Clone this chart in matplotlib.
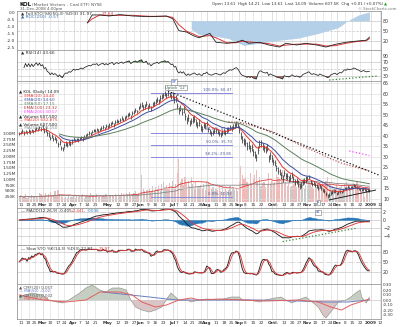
import matplotlib
matplotlib.use("Agg")
import matplotlib.pyplot as plt
import numpy as np
import pandas as pd

W, H = 400, 327
LEFT, RIGHT = 17, 381

# trading calendar
holidays = ["2008-02-18", "2008-03-21", "2008-05-26", "2008-07-04",
            "2008-09-01", "2008-11-27", "2008-12-25", "2009-01-01"]
cal = pd.bdate_range("2008-02-08", "2009-01-16")
cal = cal[~cal.isin(pd.to_datetime(holidays))]


def pos(d):
    return int(cal.searchsorted(pd.Timestamp(d)))


# daily closes, week by week (Feb 8 2008 .. Dec 31 2008)
closes = [
    41.0,
    41.5, 42.2, 41.3, 42.0, 41.6,
    42.3, 41.8, 42.6, 42.1,
    42.8, 43.5, 42.9, 44.0, 43.2,
    43.8, 42.5, 42.9, 41.2, 40.6,
    39.0, 39.8, 38.4, 38.9, 37.8,
    35.9, 36.8, 34.2, 33.6,
    35.4, 36.2, 35.8, 36.9, 36.3,
    37.2, 38.4, 37.6, 38.3, 37.9,
    38.6, 39.2, 38.5, 39.6, 40.1,
    40.7, 41.3, 41.0, 41.9, 42.6,
    42.4, 43.1, 42.2, 43.0, 43.7,
    44.2, 43.4, 44.6, 44.0, 45.1,
    45.6, 46.3, 45.2, 46.6, 47.2,
    46.8, 47.6, 48.3, 47.7, 48.6,
    49.2, 49.8, 50.3, 49.1, 50.7,
    51.3, 52.2, 51.6, 53.1,
    54.2, 54.8, 53.5, 54.1, 55.2,
    53.6, 54.3, 53.0, 54.7, 55.6,
    56.2, 57.1, 56.4, 58.0, 58.7,
    59.2, 60.1, 59.4, 60.3, 59.5,
    58.6, 59.2, 57.4, 57.9,
    54.2, 52.1, 53.2, 51.4, 52.6,
    49.3, 47.2, 48.6, 46.1, 47.0,
    47.6, 48.2, 46.4, 45.1, 46.2,
    44.0, 43.2, 45.1, 44.6, 46.0,
    43.1, 42.0, 41.2, 41.7, 42.3,
    42.6, 41.9, 41.0, 40.6, 41.6,
    42.1, 41.4, 42.7, 43.2, 44.1,
    43.6, 44.2, 45.1, 45.6, 44.8,
    42.8, 40.1, 38.2, 37.4,
    36.6, 35.1, 35.6, 34.0, 34.6,
    32.1, 30.9, 29.8, 33.2, 36.1,
    36.4, 34.8, 34.1, 33.4, 34.2,
    29.1, 30.6, 29.2, 27.4, 26.9,
    24.6, 23.4, 22.6, 21.1, 19.6,
    22.4, 20.9, 20.6, 19.4, 20.1,
    21.2, 19.4, 18.1, 18.6, 17.2,
    16.1, 16.6, 18.0, 18.6, 19.1,
    19.6, 20.2, 18.1, 17.0, 17.6,
    16.6, 16.0, 15.1, 16.1, 15.2,
    14.1, 13.6, 12.4, 11.4, 11.6,
    12.8, 13.1, 13.6, 13.8,
    12.4, 13.0, 13.6, 13.2, 14.1,
    15.1, 14.7, 15.6, 15.0, 15.3,
    15.5, 16.1, 15.8, 15.2, 15.0,
    14.4, 14.2, 14.6, 14.3,
    13.9, 14.08, 14.09,
]

# daily volume (thousands)
volume_k = [
    250,
    300, 180, 220, 350, 200,
    280, 150, 320, 240,
    260, 300, 180, 400, 350,
    300, 250, 420, 200, 380,
    450, 300, 260, 500, 280,
    520, 380, 300, 250,
    200, 240, 180, 300, 220,
    250, 340, 200, 280, 230,
    300, 260, 350, 200, 280,
    310, 220, 400, 330, 260,
    280, 350, 240, 300, 220,
    260, 300, 380, 250, 320,
    290, 340, 270, 360, 300,
    380, 300, 420, 350, 280,
    400, 360, 450, 300, 380,
    420, 500, 350, 400,
    450, 1200, 600, 480, 550,
    520, 600, 450, 700, 500,
    650, 580, 720, 500, 800,
    900, 650, 750, 600, 850,
    700, 950, 600, 800,
    1300, 1900, 900, 1000, 750,
    1100, 850, 950, 700, 1100,
    800, 600, 900, 650, 700,
    750, 600, 800, 550, 900,
    850, 700, 600, 650, 500,
    600, 550, 700, 500, 650,
    450, 600, 500, 550, 700,
    500, 650, 550, 600, 480,
    900, 1600, 1200, 1000,
    1100, 900, 750, 1300, 800,
    1000, 1200, 1400, 900, 1100,
    700, 850, 900, 650, 750,
    1300, 800, 950, 850, 900,
    1200, 1100, 1000, 950, 1400,
    800, 900, 700, 850, 650,
    700, 800, 900, 650, 750,
    850, 700, 1000, 600, 750,
    700, 900, 800, 650, 600,
    750, 650, 800, 900, 700,
    850, 700, 950, 1100, 900,
    800, 700, 600, 350,
    750, 600, 650, 700, 550,
    800, 900, 650, 700, 600,
    750, 850, 600, 950, 700,
    550, 500, 400, 250,
    450, 500, 607.5,
]

# typical daily bar range by month ($)
month_range = {2: 1.6, 3: 2.2, 4: 1.6, 5: 1.8, 6: 2.4, 7: 3.2,
               8: 2.4, 9: 3.4, 10: 3.0, 11: 2.0, 12: 1.4}

# top panel: Full STO %K and blue area
fsto_dates = ["2008-04-14", "2008-04-17", "2008-04-24", "2008-05-02", "2008-05-13",
              "2008-05-23", "2008-06-10", "2008-06-25", "2008-07-01", "2008-07-08",
              "2008-07-15", "2008-07-21", "2008-07-25", "2008-08-05", "2008-08-11",
              "2008-08-20", "2008-08-28", "2008-09-04", "2008-09-10", "2008-09-19",
              "2008-09-29", "2008-10-08", "2008-10-14", "2008-10-23", "2008-10-31",
              "2008-11-11", "2008-11-19", "2008-11-28", "2008-12-09", "2008-12-17",
              "2008-12-29", "2008-12-31"]
fsto_k = [74, 97, 97, 94, 98, 94, 92, 94, 86, 51, 47, 37, 30, 43, 17, 14, 17, 23,
          14, 17, 9, 3, 14, 9, 14, 9, 3, 11, 17, 20, 23, 31.97]
roc_dates = ["2008-07-18", "2008-07-25", "2008-08-08", "2008-08-21", "2008-09-05",
             "2008-09-19", "2008-10-08", "2008-10-24", "2008-11-12", "2008-12-02",
             "2008-12-10", "2008-12-19", "2008-12-31"]
roc_vals = [55, 40, 35, 28, 8, 14, 23, 29, 43, 60, 80, 97, 106]

# CMF panel
cmf_dates = ["2008-02-08", "2008-02-21", "2008-03-03", "2008-03-07", "2008-03-14",
             "2008-03-20", "2008-03-27", "2008-04-07", "2008-04-11", "2008-04-17",
             "2008-04-24", "2008-04-30", "2008-05-06", "2008-05-13", "2008-05-19",
             "2008-05-22", "2008-05-28", "2008-06-03", "2008-06-10", "2008-06-16",
             "2008-06-20", "2008-06-26", "2008-06-30", "2008-07-08", "2008-07-15",
             "2008-07-18", "2008-07-25", "2008-08-01", "2008-08-13", "2008-08-25",
             "2008-09-02", "2008-09-04", "2008-09-10", "2008-09-19", "2008-09-25",
             "2008-10-03", "2008-10-09", "2008-10-14", "2008-10-20", "2008-10-24",
             "2008-10-31", "2008-11-06", "2008-11-12", "2008-11-17", "2008-11-19",
             "2008-11-24", "2008-12-02", "2008-12-09", "2008-12-12", "2008-12-18",
             "2008-12-22", "2008-12-23", "2008-12-29", "2008-12-30", "2008-12-31"]
cmf20 = [0.06, 0.14, 0.10, 0.0, -0.04, -0.06, 0.0, 0.14, 0.24, 0.30, 0.20, 0.16,
         0.24, 0.24, 0.20, 0.0, -0.14, -0.20, -0.24, -0.20, -0.14, 0.06, 0.14, 0.0,
         0.0, -0.04, 0.0, 0.02, 0.0, 0.06, 0.06, 0.0, 0.0, -0.04, 0.0, 0.04, 0.06,
         0.0, -0.06, 0.0, 0.06, -0.04, -0.14, -0.30, -0.36, -0.24, -0.04, 0.0, 0.06,
         0.16, 0.20, 0.06, -0.06, 0.0, 0.057]
cmf_ma_dates = ["2008-02-08", "2008-03-03", "2008-03-25", "2008-04-11", "2008-04-24",
                "2008-05-13", "2008-05-23", "2008-06-03", "2008-06-16", "2008-06-25",
                "2008-07-08", "2008-07-18", "2008-07-25", "2008-08-13", "2008-09-04",
                "2008-09-25", "2008-10-24", "2008-11-12", "2008-11-24", "2008-12-04",
                "2008-12-12", "2008-12-22", "2008-12-31"]
cmf_ma = [0.10, 0.0, -0.04, 0.0, 0.16, 0.16, 0.10, -0.04, -0.14, -0.10, 0.0, 0.04,
          0.0, 0.02, 0.0, -0.02, 0.0, -0.04, -0.14, -0.20, -0.10, -0.04, 0.02]
cmf50_dates = ["2008-04-28", "2008-05-22", "2008-06-10", "2008-06-25", "2008-07-08",
               "2008-08-13", "2008-09-19", "2008-10-24", "2008-11-19", "2008-12-10",
               "2008-12-31"]
cmf50 = [0.16, 0.10, 0.06, 0.02, 0.0, 0.0, 0.0, -0.02, -0.04, -0.04, 0.002]

# fibonacci retracement
fib_hi, fib_lo = 60.47, 10.92
fib_levels = [1.0, 0.618, 0.5, 0.382, 0.0]
fib_span = ["2008-06-11", "2008-08-25"]

# date axis labels
date_ticks = [("2008-02-11", "11"), ("2008-02-19", "19"), ("2008-02-25", "25"),
              ("2008-03-03", "Mar"), ("2008-03-10", "10"), ("2008-03-17", "17"),
              ("2008-03-24", "24"), ("2008-04-01", "Apr"), ("2008-04-07", "7"),
              ("2008-04-14", "14"), ("2008-04-21", "21"), ("2008-05-01", "May"),
              ("2008-05-12", "12"), ("2008-05-19", "19"), ("2008-05-27", "27"),
              ("2008-06-02", "Jun"), ("2008-06-09", "9"), ("2008-06-16", "16"),
              ("2008-06-23", "23"), ("2008-07-01", "Jul"), ("2008-07-07", "7"),
              ("2008-07-14", "14"), ("2008-07-21", "21"), ("2008-07-28", "28"),
              ("2008-08-01", "Aug"), ("2008-08-11", "11"), ("2008-08-18", "18"),
              ("2008-08-25", "25"), ("2008-09-02", "Sep"), ("2008-09-08", "8"),
              ("2008-09-15", "15"), ("2008-09-22", "22"), ("2008-10-01", "Oct"),
              ("2008-10-06", "6"), ("2008-10-13", "13"), ("2008-10-20", "20"),
              ("2008-10-27", "27"), ("2008-11-03", "Nov"), ("2008-11-10", "10"),
              ("2008-11-17", "17"), ("2008-11-24", "24"), ("2008-12-01", "Dec"),
              ("2008-12-08", "8"), ("2008-12-15", "15"), ("2008-12-22", "22"),
              ("2009-01-02", "2009"), ("2009-01-12", "12")]

# ---------------- derived series ----------------
n = min(len(closes), len(volume_k))
dates = cal[:n]
x = np.arange(n)
close = pd.Series(closes[:n], dtype=float)
rng = pd.Series([month_range[d.month] for d in dates])
high = close + rng / 2
low = close - rng / 2
vol = pd.Series(volume_k[:n], dtype=float) * 1000

ema = {p: close.ewm(span=p, adjust=False).mean() for p in (10, 20, 50, 100, 200)}
macd = close.ewm(span=12, adjust=False).mean() - close.ewm(span=26, adjust=False).mean()
signal = macd.ewm(span=9, adjust=False).mean()
hist = macd - signal

d = close.diff()
gain = d.clip(lower=0).ewm(alpha=1 / 14).mean()
loss = (-d.clip(upper=0)).ewm(alpha=1 / 14).mean()
rsi = 100 - 100 / (1 + gain / loss)

hh = high.rolling(14, min_periods=1).max()
ll = low.rolling(14, min_periods=1).min()
slowk = (100 * (close - ll) / (hh - ll)).rolling(3, min_periods=1).mean()
slowd = slowk.rolling(3, min_periods=1).mean()

vma20 = vol.rolling(20, min_periods=1).mean()
vma50 = vol.rolling(50, min_periods=1).mean()

fx = [pos(s) for s in fsto_dates]
fd = pd.Series(fsto_k).rolling(2, min_periods=1).mean()
rx = [pos(s) for s in roc_dates]

# ---------------- figure ----------------
fig = plt.figure(figsize=(W / 100, H / 100), dpi=100)
fig.patch.set_facecolor("white")
TXT = "#333333"
GRID = "#dddddd"
FS = 3.4


def panel(top, bottom):
    ax = fig.add_axes([LEFT / W, 1 - bottom / H, (RIGHT - LEFT) / W, (bottom - top) / H])
    ax.set_xlim(-1.5, 233.5)
    ax.set_xticks([])
    for s in ax.spines.values():
        s.set_color("#999999")
        s.set_linewidth(0.6)
    ax.yaxis.tick_right()
    ax.tick_params(axis="y", labelsize=FS, length=0, pad=1.5, labelcolor=TXT)
    for dstr, lab in date_ticks:
        major = not lab.isdigit() or lab == "2009"
        ax.axvline(pos(dstr), color="#cccccc" if major else GRID, lw=0.45, zorder=0)
    return ax


def hgrid(ax, vals, ls="-"):
    for v in vals:
        ax.axhline(v, color="#c8c8c8", lw=0.5, ls=ls, zorder=0.5)


def px(xp, yp):
    return xp / W, 1 - yp / H


# --- panel 1: Full STO ---
ax1 = panel(11, 50)
ax1l = ax1.twinx()
ax1.yaxis.tick_right()
ax1.set_ylim(-5.7, 108.6)
ax1.set_yticks([80, 50, 20])
hgrid(ax1, [80, 20])
hgrid(ax1, [50], ls="--")
ax1.fill_between(rx, 80, roc_vals, color="#b4cfe8", lw=0, zorder=1)
ax1.plot(fx, fd, color="#e03a3a", lw=0.7, zorder=2)
ax1.plot(fx, fsto_k, color="#222222", lw=0.6, zorder=3)
ax1l.set_ylim(-2.717, 0.109)
ax1l.yaxis.tick_left()
ax1l.set_yticks([0.0, -0.5, -1.0, -1.5, -2.0, -2.5])
ax1l.set_yticklabels(["0.0", "-0.5", "-1.0", "-1.5", "-2.0", "-2.5"])
ax1l.tick_params(axis="y", labelsize=3.1, length=0, pad=1.5, labelcolor=TXT)
for s in ax1l.spines.values():
    s.set_visible(False)
ax1.text(1, 101, "▲ Full STO %K(50,3) %D(3) 31.97,", fontsize=3.1, color=TXT, va="center")
ax1.text(53, 101, "27.64", fontsize=3.1, color="#e03a3a", va="center")
ax1.text(1, 92, "▲ ROC(250) -0.57", fontsize=3.1, color="#3a6fb0", va="center")

# --- panel 2: RSI ---
ax2 = panel(50, 81)
ax2.set_ylim(15.2, 107.0)
ax2.set_yticks([90, 70, 50, 30])
hgrid(ax2, [70, 30])
hgrid(ax2, [50], ls="--")
r = rsi.values
ax2.fill_between(x[3:], 70, r[3:], where=r[3:] >= 70, interpolate=True,
                 color="#5b8c5a", lw=0, zorder=1)
ax2.fill_between(x[3:], 30, r[3:], where=r[3:] <= 30, interpolate=True,
                 color="#9a6a62", lw=0, zorder=1)
ax2.plot(x[3:], r[3:], color="#222222", lw=0.55, zorder=2)
ax2.plot([pos("2008-11-21"), pos("2009-01-08")], [18.1, 30], color="#3a8a3a",
         ls=":", lw=0.9, zorder=3)
ax2.text(1, 99, f"▲ RSI(14) {rsi.iloc[-1]:.2f}", fontsize=3.1, color=TXT, va="center")

# --- panel 3: price + volume ---
axv = panel(81, 208)
axv.set_ylim(-0.243e6, 5.28e6)
axv.yaxis.tick_left()
axv.tick_params(axis="y", labelsize=3.1, pad=1)
vt = np.arange(250e3, 3.01e6, 250e3)
axv.set_yticks(vt)
axv.set_yticklabels([f"{v / 1e3:.0f}K" if v < 1e6 else f"{v / 1e6:.2f}M" for v in vt])
up = close.diff().fillna(0) >= 0
axv.bar(x, vol, width=0.75, color=np.where(up, "#c9c9c9", "#f2b9b9"), lw=0, zorder=1)
axv.plot(x, vma20, color="#e03a3a", lw=0.6, zorder=2)
axv.plot(x, vma50, color="#888888", lw=0.6, zorder=2)

axp = fig.add_axes(axv.get_position())
axp.set_xlim(-1.5, 233.5)
axp.set_ylim(5.57, 66.1)
axp.patch.set_visible(False)
axp.set_xticks([])
for s in axp.spines.values():
    s.set_visible(False)
axp.yaxis.tick_right()
axp.set_yticks(np.arange(10, 66, 5))
axp.tick_params(axis="y", labelsize=FS, length=0, pad=1.5, labelcolor=TXT)
for v in np.arange(10, 66, 5):
    axp.axhline(v, color=GRID, lw=0.45, zorder=0)

f0, f1 = pos(fib_span[0]), pos(fib_span[1])
for lv in fib_levels:
    val = fib_lo + lv * (fib_hi - fib_lo)
    axp.plot([f0, f1], [val, val], color="#8a8ae0", lw=0.7, zorder=1)
    axp.text(f1, val + 0.6, f"{lv * 100:.1f}%: {val:.2f}", fontsize=2.8,
             color="#4a5a9a", ha="right", va="bottom", zorder=4)

axp.vlines(x, low, high, color="#333333", lw=0.55, zorder=3)
axp.hlines(close, x, x + 0.6, color="#333333", lw=0.4, zorder=3)
axp.plot(x, ema[10], color="#e8352e", lw=0.7, zorder=4)
axp.plot(x[26:], ema[20][26:], color="#3c4ea0", lw=0.7, zorder=4)
axp.plot(x[26:], ema[50][26:], color="#5f805f", lw=0.7, zorder=4)
axp.plot(x[135:], ema[100][135:], color="#b03a3a", lw=0.8, ls=":", zorder=4)
axp.plot(x[213:], ema[200][213:], color="#ff40ff", lw=0.9, ls=":", zorder=4)

axp.plot([pos("2008-06-26"), pos("2009-01-09")], [61.3, 21.3], color="#111111",
         lw=0.9, ls=":", zorder=5)
axp.plot([pos("2008-11-21"), pos("2009-01-07")], [9.4, 14.1], color="#222222",
         lw=0.7, zorder=5)

box = dict(boxstyle="square,pad=0.15", fc="white", ec="#777777", lw=0.4)
axp.text(pos("2008-07-02"), 65.6, "SP", fontsize=2.8, color="#3050c0", ha="center",
         va="center", bbox=box, zorder=6, clip_on=False)
axp.text(pos("2008-07-03"), 63.0, "Uptick '12'", fontsize=2.8, color="#306040",
         ha="center", va="center", bbox=box, zorder=6)
axp.text(pos("2008-11-12"), 8.4, "a", fontsize=2.6, color="#3050c0", ha="center",
         va="center", bbox=box, zorder=6)

legend = [
    ("▲ KOL (Daily) 14.09", "#222222"),
    (f"— EMA(10) {ema[10].iloc[-1]:.2f}", "#e8352e"),
    (f"— EMA(20) {ema[20].iloc[-1]:.2f}", "#3c4ea0"),
    (f"— EMA(50) {ema[50].iloc[-1]:.2f}", "#5f805f"),
    (f"··· EMA(100) {ema[100].iloc[-1]:.2f}", "#b03a3a"),
    (f"··· EMA(200) {ema[200].iloc[-1]:.2f}", "#ff40ff"),
    (f"▲ Volume {vol.iloc[-1]:,.0f}", "#222222"),
    (f"— MA(20) {vma20.iloc[-1]:,.0f}", "#e03a3a"),
    (f"▲ Volume {vol.iloc[-1]:,.0f}", "#222222"),
    (f"— MA(50) {vma50.iloc[-1]:,.0f}", "#888888"),
]
for i, (t, c) in enumerate(legend):
    fig.text(*px(19, 91.5 + 4.1 * i), t, fontsize=3.0, color=c, va="center")

# --- panel 4: MACD ---
ax4 = panel(208, 245)
ax4.set_ylim(-6.25, 3.0)
ax4.set_yticks([2, 0, -2, -4])
hgrid(ax4, [2, 0, -2, -4])
ax4.fill_between(x, 0, hist, color="#2a78b8", lw=0.3, zorder=1)
ax4.plot(x, macd, color="#222222", lw=0.65, zorder=2)
ax4.plot(x, signal, color="#e03a3a", lw=0.65, zorder=2)
ax4.plot([pos("2008-10-10"), pos("2008-12-17")], [-5.4, -2.1], color="#3a8a3a",
         ls=":", lw=0.9, zorder=3)
ax4.text(pos("2008-11-12"), 1.9, "a1", fontsize=2.6, color="#3050c0", ha="center",
         va="center", bbox=box, zorder=6)
ax4.text(1, 2.2, f"— MACD(12,26,9) {macd.iloc[-1]:.3f},", fontsize=3.0, color=TXT,
         va="center")
ax4.text(34, 2.2, f"{signal.iloc[-1]:.3f},", fontsize=3.0, color="#e03a3a", va="center")
ax4.text(44, 2.2, f"{hist.iloc[-1]:.3f}", fontsize=3.0, color="#2a78b8", va="center")

# --- panel 5: Slow STO ---
ax5 = panel(245, 284)
ax5.set_ylim(-16.9, 100.1)
ax5.set_yticks([80, 50, 20])
hgrid(ax5, [80, 20])
hgrid(ax5, [50], ls="-.")
ax5.plot(x, slowk, color="#222222", lw=0.65, zorder=2)
ax5.plot(x, slowd, color="#e03a3a", lw=0.65, zorder=2)
ax5.text(1, 89, f"— Slow STO %K(14,3) %D(3) {slowk.iloc[-1]:.2f},", fontsize=3.0,
         color=TXT, va="center")
ax5.text(51, 89, f"{slowd.iloc[-1]:.2f}", fontsize=3.0, color="#e03a3a", va="center")

# --- panel 6: CMF ---
ax6 = panel(284, 319)
ax6.set_ylim(-0.38, 0.32)
ct = [0.3, 0.2, 0.1, 0.0, -0.1, -0.2, -0.3]
ax6.set_yticks(ct)
ax6.set_yticklabels([f"{v:.2f}" for v in ct])
ax6.tick_params(axis="y", labelsize=3.0)
hgrid(ax6, [0.0])
cx = np.array([pos(s) for s in cmf_dates])
cv = np.array(cmf20)
ax6.fill_between(cx, 0, cv, where=cv >= 0, interpolate=True, color="#c6cdc2", lw=0, zorder=1)
ax6.fill_between(cx, 0, cv, where=cv <= 0, interpolate=True, color="#d9c5c5", lw=0, zorder=1)
ax6.plot(cx, cv, color="#8f978c", lw=0.45, zorder=2)
ax6.plot([pos(s) for s in cmf50_dates], cmf50, color="#6a7fc0", lw=0.7, zorder=3)
ax6.plot([pos(s) for s in cmf_ma_dates], cmf_ma, color="#e06060", lw=0.7, zorder=3)
cmf_leg = [("▲ CMF(20) 0.057", "#555555"), ("— MA(50) -0.02", "#6a7fc0"),
           ("▲ CMF(50) 0.002", "#555555"), ("— MA(20) 0.04", "#e06060")]
for i, (t, c) in enumerate(cmf_leg):
    fig.text(*px(19, 287.5 + 4.0 * i), t, fontsize=2.9, color=c, va="center")

# date labels
for ax, yfrac in ((axv, (208 - 205.3) / 127), (ax6, -(323.3 - 319) / 35)):
    tr = ax.get_xaxis_transform()
    for dstr, lab in date_ticks:
        bold = not lab.isdigit() or lab == "2009"
        ax.text(pos(dstr), yfrac, lab, transform=tr, fontsize=3.1, color=TXT,
                ha="center", va="center", fontweight="bold" if bold else "normal",
                clip_on=False)

# header
fig.text(*px(20, 4.5), "KOL", fontsize=4.0, fontweight="bold", color="#111111", va="center")
fig.text(*px(32, 4.5), "(Market Vectors - Coal ETF) NYSE", fontsize=3.1, color="#555555",
         va="center")
fig.text(*px(20, 8.6), "31-Dec-2008 4:00pm", fontsize=2.9, color="#555555", va="center")
fig.text(*px(383, 4.5), "Open 13.61  High 14.21  Low 13.61  Last 14.09  Volume 607.5K  "
         "Chg +0.01 (+0.07%)", fontsize=2.9, color=TXT, va="center", ha="right")
fig.text(*px(384, 4.5), "▲", fontsize=2.8, color="#2a9a2a", va="center")
fig.text(*px(397, 8.8), "© StockCharts.com", fontsize=2.8, color="#777777",
         va="center", ha="right")

fig.savefig("out.png", dpi=100)
